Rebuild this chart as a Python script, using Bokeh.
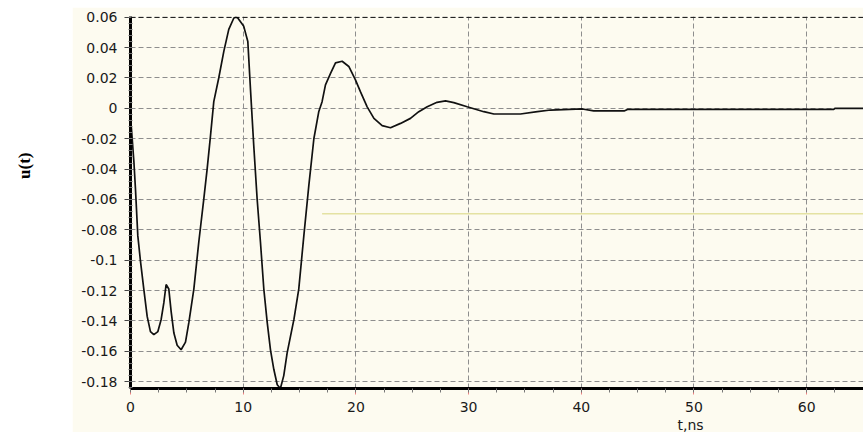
import math

from bokeh.embed import file_html
from bokeh.layouts import row
from bokeh.models import FixedTicker, Label, Range1d, Span, Title
from bokeh.plotting import figure
from bokeh.resources import INLINE

# Transient response u(t), time in ns
t_ns = [0.0, 0.09, 0.3, 0.44, 0.65, 0.89, 1.18, 1.48, 1.77, 2.07,
        2.43, 2.72, 2.96, 3.16, 3.4, 3.61, 3.85, 4.14, 4.49, 4.88,
        5.18, 5.62, 6.06, 6.5, 6.8, 7.1, 7.39, 7.83, 8.28, 8.72,
        9.17, 9.35, 9.52, 10.05, 10.41, 10.65, 10.94, 11.24, 11.53, 11.83,
        12.13, 12.42, 12.72, 13.02, 13.3, 13.6, 13.9, 14.5, 14.93, 15.38,
        15.82, 16.27, 16.71, 17.0, 17.3, 17.75, 18.19, 18.78, 19.37, 19.96,
        20.4, 21.0, 21.6, 22.33, 23.07, 23.96, 24.84, 25.58, 26.33, 27.2,
        27.95, 28.69, 29.87, 31.35, 32.24, 34.6, 36.1, 37.27, 40.1, 41.1,
        43.8, 44.1, 62.4, 62.5, 65.0]
u_t = [-0.006, -0.014, -0.035, -0.053, -0.084, -0.101, -0.119, -0.137, -0.147, -0.149,
       -0.147, -0.139, -0.128, -0.116, -0.119, -0.134, -0.148, -0.156, -0.159, -0.154,
       -0.141, -0.119, -0.088, -0.060, -0.040, -0.018, 0.0044, 0.020, 0.0375, 0.052,
       0.0595, 0.060, 0.0595, 0.054, 0.044, 0.012, -0.025, -0.060, -0.088, -0.119,
       -0.141, -0.159, -0.172, -0.182, -0.1845, -0.176, -0.161, -0.139, -0.119, -0.084,
       -0.051, -0.020, -0.002, 0.0044, 0.0155, 0.023, 0.030, 0.031, 0.0276, 0.0188,
       0.011, 0.001, -0.0066, -0.0114, -0.0128, -0.0099, -0.0066, -0.0022, 0.0011, 0.004,
       0.0049, 0.0038, 0.0011, -0.0022, -0.0037, -0.0037, -0.0022, -0.0011, -0.0004, -0.0017,
       -0.0017, -0.0007, -0.0007, 0.0, 0.0]

# Faint horizontal reference trace
ref_t = [17.0, 65.0]
ref_u = [-0.0694, -0.0694]

x_ticks = [0, 10, 20, 30, 40, 50, 60]
y_ticks = [-0.18, -0.16, -0.14, -0.12, -0.1, -0.08, -0.06, -0.04, -0.02, 0.0, 0.02, 0.04, 0.06]
y_tick_labels = ["-0.18", "-0.16", "-0.14", "-0.12", "-0.1", "-0.08", "-0.06",
                 "-0.04", "-0.02", "0", "0.02", "0.04", "0.06"]

CREAM = "#fdfbf0"
TICK_FONT = "DejaVu Sans"

# Narrow white strip carrying the vertical quantity label
side = figure(width=72, height=434, x_range=Range1d(0, 72), y_range=Range1d(0, 434),
              x_axis_type=None, y_axis_type=None, toolbar_location=None,
              output_backend="svg", min_border=0)
side.outline_line_color = None
side.background_fill_color = "white"
side.border_fill_color = "white"
side.grid.visible = False
side.add_layout(Label(x=24, y=256, text="u(t)", angle=math.pi / 2,
                      text_font="Liberation Serif", text_font_style="bold",
                      text_font_size="17px", text_color="#000000",
                      text_align="center", text_baseline="middle"))

# Main plot
p = figure(width=791, height=425, x_range=Range1d(0, 65.04), y_range=Range1d(-0.1845, 0.0605),
           toolbar_location=None, output_backend="svg",
           min_border_left=58, min_border_top=9, min_border_bottom=0, min_border_right=0)
p.margin = (7, 0, 2, 0)
p.background_fill_color = CREAM
p.border_fill_color = CREAM
p.outline_line_color = None

p.xaxis.ticker = FixedTicker(ticks=x_ticks,
                             minor_ticks=[i * 2.5 for i in range(27)])
p.yaxis.ticker = FixedTicker(ticks=y_ticks,
                             minor_ticks=[round(-0.184 + i * 0.004, 3) for i in range(62)])
p.yaxis.major_label_overrides = {v: s for v, s in zip(y_ticks, y_tick_labels)}

for ax in (p.xaxis, p.yaxis):
    ax.axis_line_color = "#000000"
    ax.axis_line_width = 3
    ax.major_label_text_font = TICK_FONT
    ax.major_label_text_font_size = "14px"
    ax.major_label_text_color = "#1a1a1a"
    ax.major_label_standoff = 7

p.xaxis.major_tick_line_color = "#f08080"
p.xaxis.major_tick_out = 6
p.xaxis.major_tick_in = 0
p.xaxis.minor_tick_line_color = "#777777"
p.xaxis.minor_tick_out = 4
p.xaxis.minor_tick_in = 0

p.yaxis.major_tick_line_color = "#444444"
p.yaxis.major_tick_out = 6
p.yaxis.major_tick_in = 0
p.yaxis.minor_tick_line_color = "#777777"
p.yaxis.minor_tick_out = 2
p.yaxis.minor_tick_in = 2

p.grid.grid_line_color = "#8e8e8e"
p.grid.grid_line_width = 1
p.xgrid.grid_line_dash = "5 3"
p.ygrid.grid_line_dash = "5 3"

# Black dashed rule along the top of the plot area
p.add_layout(Span(location=0.06, dimension="width", line_color="#000000",
                  line_width=1.2, line_dash="5 3"))

p.line(ref_t, ref_u, line_color="#e4e2a2", line_width=1.6)
p.line(t_ns, u_t, line_color="#111111", line_width=1.7)

# Time-axis caption, set under the 50 ns tick
p.add_layout(Title(text="t,ns", align="left", offset=547,
                   text_font=TICK_FONT, text_font_size="14px",
                   text_font_style="normal", text_color="#1a1a1a",
                   standoff=0), "below")

layout = row(side, p)
open("out.html", "w").write(file_html(layout, INLINE))
